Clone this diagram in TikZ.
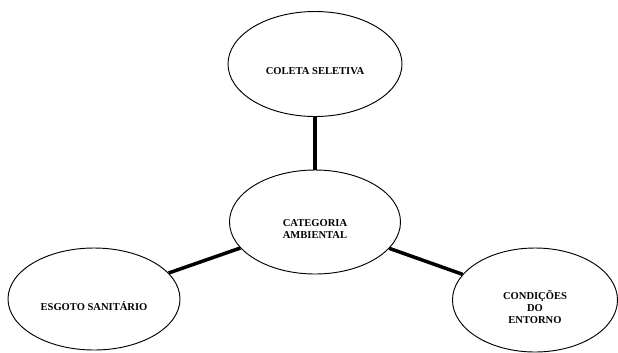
\documentclass[tikz,border=0pt]{standalone}
\usepackage{fontspec}
\setmainfont{Liberation Serif}
\usepackage{xcolor}
\usepackage{tikz}
\usetikzlibrary{shapes.geometric}
\definecolor{ink}{HTML}{000000}
\definecolor{paper}{HTML}{FFFFFF}
\tikzset{
  bubble/.style={ellipse, draw=ink, fill=paper, line width=0.8pt, inner sep=0pt},
  tag/.style={text=ink, align=center, yshift=-2.1mm,
    font=\fontsize{9}{10}\selectfont\bfseries},
  link/.style={draw=ink, line width=3pt},
}

\begin{document}
\begin{tikzpicture}[x=0.3mm,y=-0.3mm]
  \useasboundingbox (0,0) rectangle (618,352);
  \node[bubble, minimum width=52.2mm, minimum height=31.5mm,
    label={[tag]center:COLETA SELETIVA}] (coleta) at (315,64) {};
  \node[bubble, minimum width=51.3mm, minimum height=31.2mm,
    label={[tag]center:CATEGORIA\\AMBIENTAL}] (categoria) at (315,222) {};
  \node[bubble, minimum width=51.6mm, minimum height=30.6mm,
    label={[tag]center:ESGOTO SANITÁRIO}] (esgoto) at (94,299) {};
  \node[bubble, minimum width=49.5mm, minimum height=31.2mm,
    label={[tag]center:CONDIÇÕES\\DO\\ENTORNO}] (entorno) at (535,300) {};
  \draw[link] (coleta) -- (categoria);
  \draw[link] (esgoto) -- (categoria);
  \draw[link] (entorno) -- (categoria);
\end{tikzpicture}
\end{document}
